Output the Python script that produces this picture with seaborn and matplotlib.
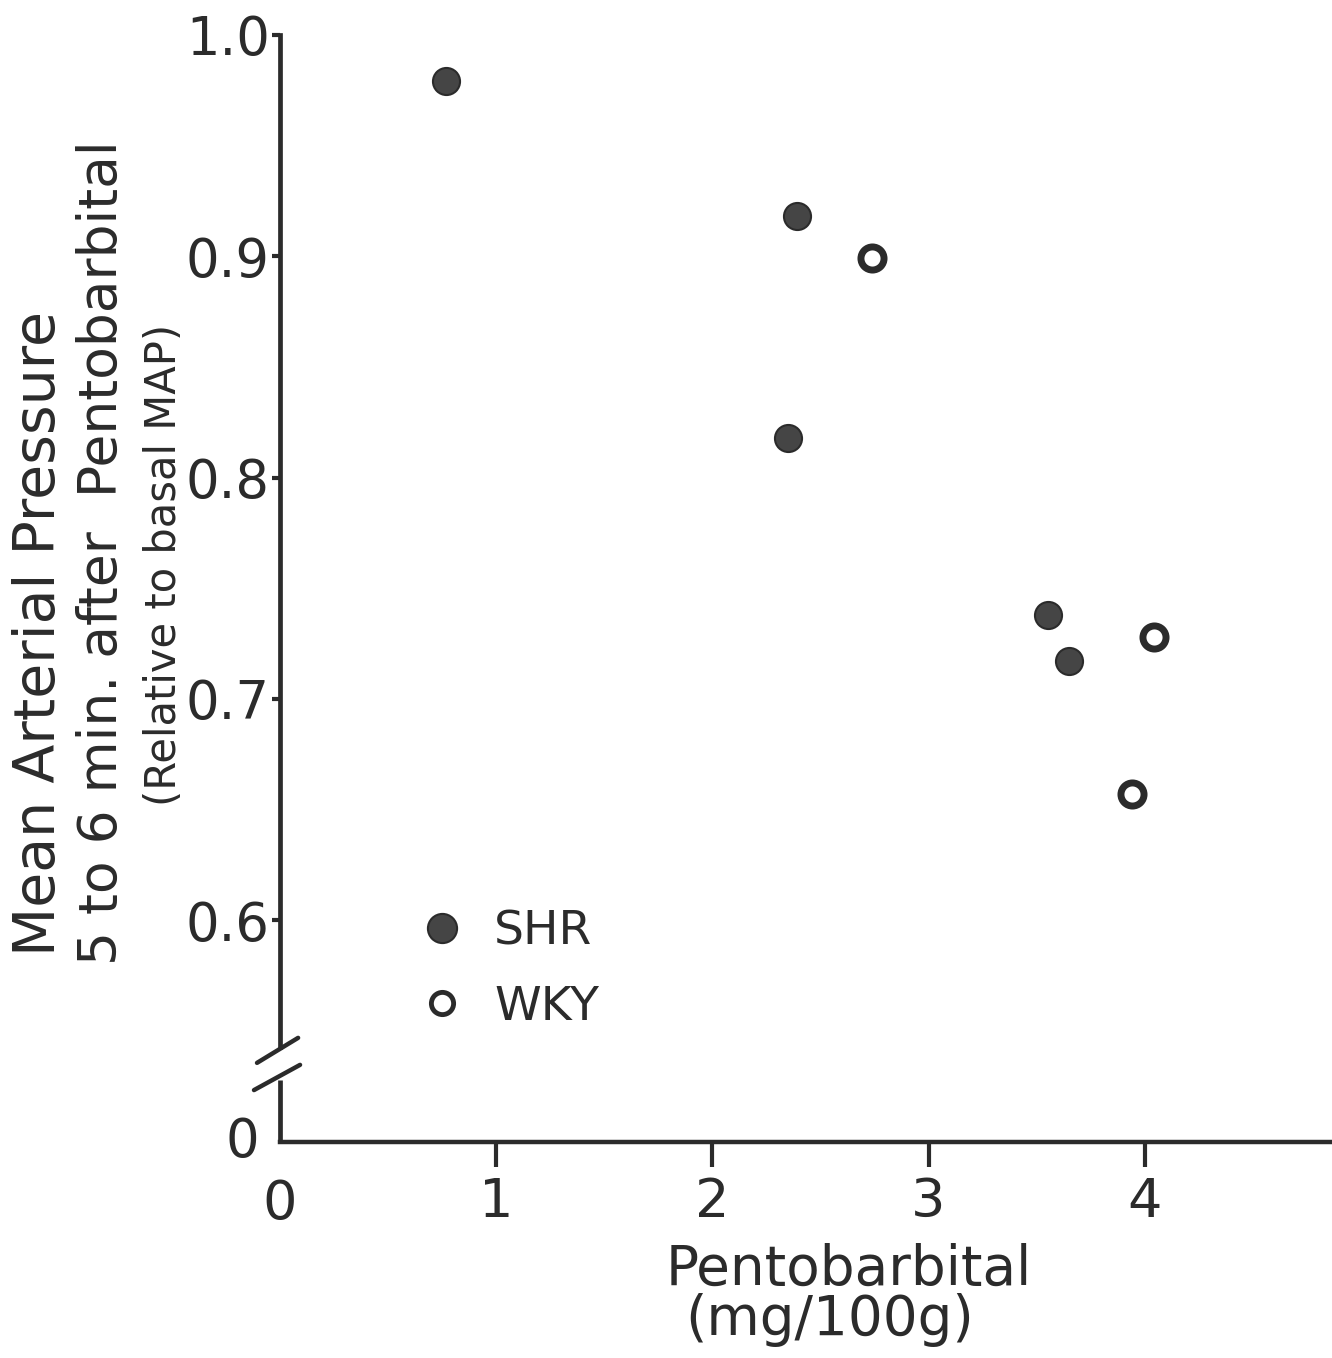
import matplotlib
matplotlib.use("Agg")
import matplotlib.pyplot as plt
import seaborn as sns
import pandas as pd
from matplotlib.lines import Line2D

# Pentobarbital dose (mg/100g) and relative mean arterial pressure
shr_dose = [0.77, 2.39, 2.35, 3.55, 3.65]
shr_map = [0.979, 0.918, 0.818, 0.738, 0.717]
wky_dose = [2.74, 4.04, 3.94]
wky_map = [0.899, 0.728, 0.657]
strains = ["SHR", "WKY"]

x_ticks = [1, 2, 3, 4]
y_ticks = [0.6, 0.7, 0.8, 0.9, 1.0]
y_ticklabels = ["0.6", "0.7", "0.8", "0.9", "1.0"]

df = pd.DataFrame({
    "dose": shr_dose + wky_dose,
    "map": shr_map + wky_map,
    "strain": [strains[0]] * len(shr_dose) + [strains[1]] * len(wky_dose),
})

sns.set_theme(style="white")
plt.rcParams["font.family"] = ["DejaVu Sans"]
ink = "#2b2b2b"

fig = plt.figure(figsize=(13.32, 13.58), dpi=100)
ax = fig.add_axes([0.21, 0.1593, 0.79, 0.815])

sns.scatterplot(data=df[df.strain == "SHR"], x="dose", y="map", ax=ax,
                s=380, color="#454545", edgecolor=ink, linewidth=1.5,
                legend=False, zorder=3)
sns.scatterplot(data=df[df.strain == "WKY"], x="dose", y="map", ax=ax,
                s=276, facecolor="white", edgecolor=ink, linewidth=5,
                legend=False, zorder=3)

# the zero of the y axis sits just below the break, at 0.5 on the drawn scale
ax.set_xlim(0, 4.865)
ax.set_ylim(0.5, 1.0)

for side in ["top", "right"]:
    ax.spines[side].set_visible(False)
ax.spines["bottom"].set_linewidth(3.2)
ax.spines["bottom"].set_color(ink)
ax.spines["left"].set_linewidth(3.4)
ax.spines["left"].set_color(ink)
ax.spines["left"].set_bounds(0.5428, 1.0)

# lower piece of the broken y axis and the break marks
ax.plot([0, 0], [0.5, 0.528], color=ink, lw=3.4, clip_on=False,
        solid_capstyle="butt")
ax.plot([-0.105, 0.085], [0.5356, 0.5469], color=ink, lw=3.2, clip_on=False)
ax.plot([-0.119, 0.094], [0.5233, 0.5347], color=ink, lw=3.2, clip_on=False)

ax.set_xticks(x_ticks)
ax.set_xticklabels([str(t) for t in x_ticks])
ax.set_yticks(y_ticks)
ax.set_yticklabels(y_ticklabels)
ax.tick_params(axis="x", direction="out", length=18, width=3, color=ink,
               labelsize=39, pad=7, labelcolor=ink, bottom=True)
ax.tick_params(axis="y", direction="out", length=6, width=3, color=ink,
               labelsize=38, pad=1, labelcolor=ink, left=True)
ax.set_xlabel("")
ax.set_ylabel("")

# zero labels at the origin
ax.text(-0.175, 0.5, "0", ha="center", va="center", fontsize=38, color=ink,
        clip_on=False)
ax.text(0.0, 0.5 - 0.0163, "0", ha="center", va="top", fontsize=39,
        color=ink, clip_on=False)

# legend
handles = [
    Line2D([], [], ls="none", marker="o", markersize=21,
           markerfacecolor="#454545", markeredgecolor=ink, markeredgewidth=1.5),
    Line2D([], [], ls="none", marker="o", markersize=16,
           markerfacecolor="white", markeredgecolor=ink, markeredgewidth=3.5),
]
ax.legend(handles, strains, loc="upper left", bbox_to_anchor=(0.114, 0.227),
          frameon=False, fontsize=34, handletextpad=0.6, labelspacing=0.64,
          handlelength=1.0, borderaxespad=0, labelcolor=ink)

# axis titles
fig.text(849 / 1332, 1 - 1285 / 1358, "Pentobarbital", ha="center",
         va="baseline", fontsize=39.5, color=ink)
fig.text(830 / 1332, 1 - 1335 / 1358, "(mg/100g)", ha="center",
         va="baseline", fontsize=39.5, color=ink)

fig.text(55 / 1332, 1 - 956 / 1358, "Mean Arterial Pressure", rotation=90,
         rotation_mode="anchor", ha="left", va="baseline", fontsize=41,
         color=ink)
fig.text(117 / 1332, 1 - 965 / 1358, "5 to 6 min. after  Pentobarbital",
         rotation=90, rotation_mode="anchor", ha="left", va="baseline",
         fontsize=38.5, color=ink)
fig.text(176 / 1332, 1 - 565 / 1358, "(Relative to basal MAP)", rotation=90,
         rotation_mode="anchor", ha="center", va="baseline", fontsize=30,
         color=ink)

fig.savefig("out.png", dpi=100, facecolor="white")
